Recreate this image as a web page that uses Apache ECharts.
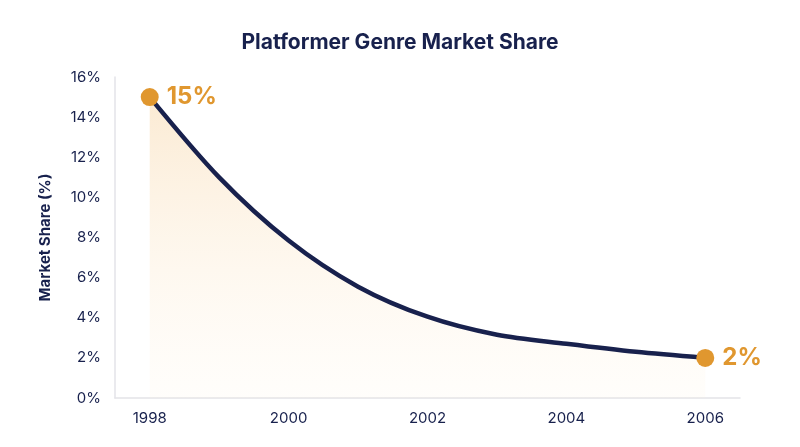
<!DOCTYPE html>
<html>
<head>
<meta charset="utf-8">
<script src="https://cdn.jsdelivr.net/npm/echarts@6/dist/echarts.min.js"></script>
<style>
    html, body { margin: 0; padding: 0; background: #ffffff; }
    #share_chart { width: 800px; height: 447px; }
</style>
</head>
<body>
<div id="share_chart"></div>
<script>
//年份
var years = ['1998', '1999', '2000', '2001', '2002', '2003', '2004', '2005', '2006'];
//市场份额(%)
var shareValues = [15, 11.0, 7.85, 5.55, 4.05, 3.15, 2.7, 2.3, 2.0];
//y轴刻度
var yTicks = [0, 2, 4, 6, 8, 10, 12, 14, 16];

var navy = '#18214d';
var orange = '#e0972f';
var font = 'Inter';

//只在首尾两个点显示圆点和标签
function buildPoints() {
    var points = new Array();
    for (var i = 0; i < shareValues.length; i++) {
        var isEnd = (i == 0 || i == shareValues.length - 1);
        points[i] = {
            value: shareValues[i],
            symbol: isEnd ? 'circle' : 'none',
            symbolSize: 18,
            label: { show: isEnd }
        };
    }
    return points;
}

var share_chart = echarts.init(document.getElementById('share_chart'));
var option = {
    backgroundColor: '#ffffff',
    title: {
        text: 'Platformer Genre Market Share',
        left: 'center',
        top: 27,
        textStyle: {
            fontFamily: font,
            fontSize: 21,
            fontWeight: 'bold',
            color: navy
        }
    },
    grid: {
        left: 115,
        right: 60,
        top: 77,
        bottom: 49
    },
    xAxis: {
        type: 'category',
        data: years,
        boundaryGap: true,
        axisLine: { lineStyle: { color: '#e3e3e8', width: 1.5 } },
        axisTick: { show: false },
        axisLabel: {
            interval: 1,
            margin: 13,
            fontFamily: font,
            fontSize: 15,
            color: navy
        }
    },
    yAxis: {
        type: 'value',
        min: yTicks[0],
        max: yTicks[yTicks.length - 1],
        interval: 2,
        name: 'Market Share (%)',
        nameLocation: 'middle',
        nameGap: 62,
        nameTextStyle: {
            fontFamily: font,
            fontSize: 15,
            fontWeight: 'bold',
            color: navy
        },
        axisLine: { show: true, lineStyle: { color: '#e3e3e8', width: 1.5 } },
        axisTick: { show: false },
        splitLine: { show: false },
        axisLabel: {
            margin: 14,
            fontFamily: font,
            fontSize: 15,
            color: navy,
            formatter: '{value}%'
        }
    },
    series: [{
        type: 'line',
        data: buildPoints(),
        smooth: 0.3,
        lineStyle: { color: navy, width: 4.5 },
        itemStyle: { color: orange },
        label: {
            position: 'right',
            distance: 8,
            formatter: '{c}%',
            fontFamily: font,
            fontSize: 24,
            fontWeight: 'bold',
            color: orange
        },
        areaStyle: {
            color: new echarts.graphic.LinearGradient(0, 0, 0, 1, [{
                offset: 0, color: 'rgba(244, 196, 130, 0.5)'
            }, {
                offset: 1, color: 'rgba(255, 240, 215, 0.15)'
            }])
        },
        z: 3
    }]
};
share_chart.setOption(option);
</script>
</body>
</html>
